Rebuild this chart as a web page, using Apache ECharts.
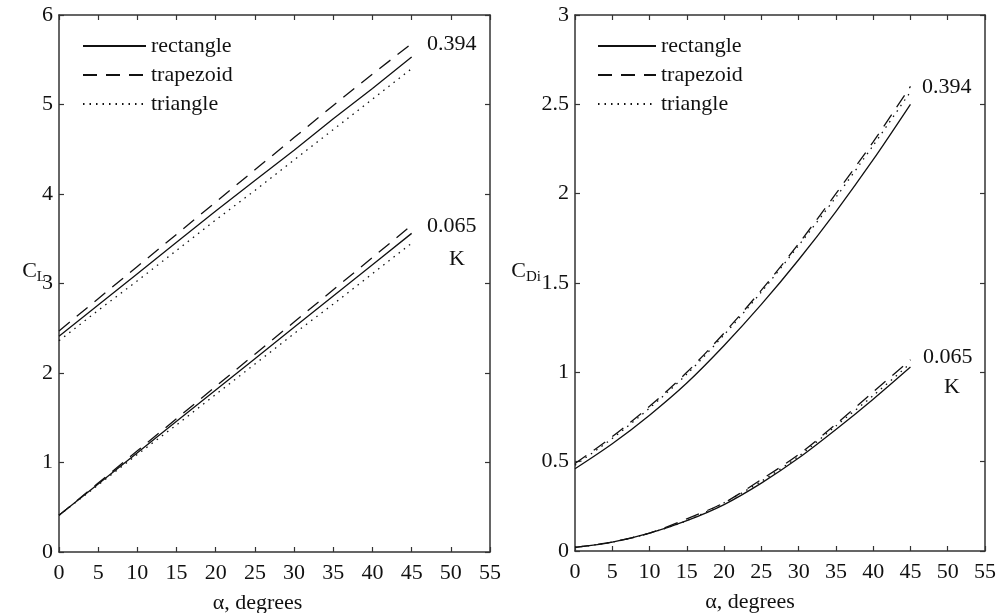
<!DOCTYPE html>
<html><head><meta charset="utf-8">
<script src="https://cdn.jsdelivr.net/npm/echarts@6/dist/echarts.min.js"></script>
<style>html,body{margin:0;padding:0;background:#fff}#c{width:1000px;height:613px}</style>
</head><body><div id="c"></div>
<script>
const alpha = [0,5,10,15,20,25,30,35,40,45];
// Left panel: C_L
const clRect394 = [2.41,2.76,3.11,3.46,3.81,4.15,4.49,4.84,5.18,5.53];
const clTrap394 = [2.47,2.83,3.19,3.55,3.91,4.27,4.63,4.99,5.34,5.68];
const clTri394  = [2.36,2.70,3.03,3.37,3.71,4.04,4.38,4.72,5.06,5.40];
const clRect065 = [0.41,0.76,1.11,1.46,1.81,2.16,2.51,2.86,3.21,3.56];
const clTrap065 = [0.41,0.77,1.13,1.49,1.85,2.21,2.57,2.93,3.29,3.65];
const clTri065  = [0.41,0.75,1.09,1.42,1.76,2.10,2.44,2.77,3.11,3.45];
// Right panel: C_Di
const cdRect394 = [0.46,0.60,0.76,0.94,1.15,1.38,1.63,1.90,2.19,2.50];
const cdTrap394 = [0.49,0.64,0.81,1.00,1.22,1.46,1.72,2.00,2.29,2.60];
const cdTri394  = [0.48,0.63,0.80,0.99,1.21,1.45,1.71,1.98,2.27,2.57];
const cdRect065 = [0.02,0.05,0.10,0.17,0.26,0.38,0.52,0.68,0.85,1.03];
const cdTrap065 = [0.02,0.05,0.10,0.18,0.27,0.40,0.54,0.71,0.89,1.07];
const cdTri065  = [0.02,0.05,0.10,0.17,0.27,0.39,0.53,0.70,0.87,1.05];
const shapes = ['rectangle','trapezoid','triangle'];

const FONT = 'Liberation Serif';
const FS = 22;
const AX = '#333';
const styles = {
  rectangle: {type:'solid'},
  trapezoid: {type:[14,9]},
  triangle: {type:[1.5,5]}
};
function pairs(ys){ return alpha.map((a,i)=>[a, ys[i]]); }
function line(name, ys, gi, smooth){
  return {name, type:'line', xAxisIndex:gi*2, yAxisIndex:gi*2, data:pairs(ys),
    symbol:'none', smooth: smooth, silent:true,
    lineStyle:{color:'#111', width:1.3, type:styles[name].type}, itemStyle:{color:'#111'}};
}
function xAx(gi, pos, name, pad){
  return {type:'value', gridIndex:gi, position:pos, min:0, max:55, interval:5,
    axisLine:{show:true, onZero:false, lineStyle:{color:AX, width:1.5}},
    axisTick:{show:true, inside:true, length:5, lineStyle:{color:AX, width:1.2}},
    axisLabel:{show:pos==='bottom', color:'#111', fontFamily:FONT, fontSize:FS, margin:10},
    splitLine:{show:false},
    name: pos==='bottom'? name : '', nameLocation:'middle', nameGap:40, nameMoveOverlap:false,
    nameTextStyle:{color:'#111', fontFamily:FONT, fontSize:FS, padding:[0,pad,0,0]}};
}
function yAx(gi, pos, max, interval, name, gap, up){
  return {type:'value', gridIndex:gi, position:pos, min:0, max:max, interval:interval,
    axisLine:{show:true, onZero:false, lineStyle:{color:AX, width:1.5}},
    axisTick:{show:true, inside:true, length:5, lineStyle:{color:AX, width:1.2}},
    axisLabel:{show:pos==='left', color:'#111', fontFamily:FONT, fontSize:FS, margin:6},
    splitLine:{show:false},
    name: pos==='left'? name : '', nameLocation:'middle', nameRotate:0, nameGap:gap, nameMoveOverlap:false,
    nameTextStyle:{color:'#111', fontFamily:FONT, fontSize:FS, padding:[0,0,up,0],
      rich:{c:{fontFamily:FONT, fontSize:FS, color:'#111'},
            s:{fontFamily:FONT, fontSize:15, color:'#111', padding:[12,0,0,0]}}}};
}
function legend(left, w){
  return {left:left, top:35, padding:0, orient:'vertical', itemGap:7, itemWidth:w, itemHeight:14,
    data:shapes, selectedMode:false, itemStyle:{opacity:0},
    textStyle:{fontFamily:FONT, fontSize:FS, color:'#111', padding:[0,0,0,0]}};
}
const series = [];
[[clRect394,clTrap394,clTri394],[clRect065,clTrap065,clTri065]].forEach(g=>{
  shapes.forEach((s,i)=>series.push(line(s,g[i],0,false)));
});
[[cdRect394,cdTrap394,cdTri394],[cdRect065,cdTrap065,cdTri065]].forEach(g=>{
  shapes.forEach((s,i)=>series.push(line(s,g[i],1,0.3)));
});
const ann = (text,left,top)=>({type:'text', left, top,
  style:{text, font:FS+'px "Liberation Serif"', fill:'#111'}});
const chart = echarts.init(document.getElementById('c'), null, {renderer:'canvas'});
chart.setOption({
  animation:false,
  backgroundColor:'#fff',
  grid:[{left:59, right:510, top:15, bottom:61, outerBoundsMode:'none'},
        {left:575, right:15, top:15, bottom:62, outerBoundsMode:'none'}],
  xAxis:[xAx(0,'bottom','α, degrees',34), xAx(0,'top','',0), xAx(1,'bottom','α, degrees',60), xAx(1,'top','',0)],
  yAxis:[yAx(0,'left',6,1,'{c|C}{s|L}',13,24), yAx(0,'right',6,1,'',0,0),
         yAx(1,'left',3,0.5,'{c|C}{s|Di}',34,24), yAx(1,'right',3,0.5,'',0,0)],
  legend:[legend(82,63), legend(597,58)],
  series,
  graphic:[ann('0.394',427,33), ann('0.065',427,215), ann('K',449,248),
           ann('0.394',922,76), ann('0.065',923,346), ann('K',944,376)]
});
</script></body></html>
